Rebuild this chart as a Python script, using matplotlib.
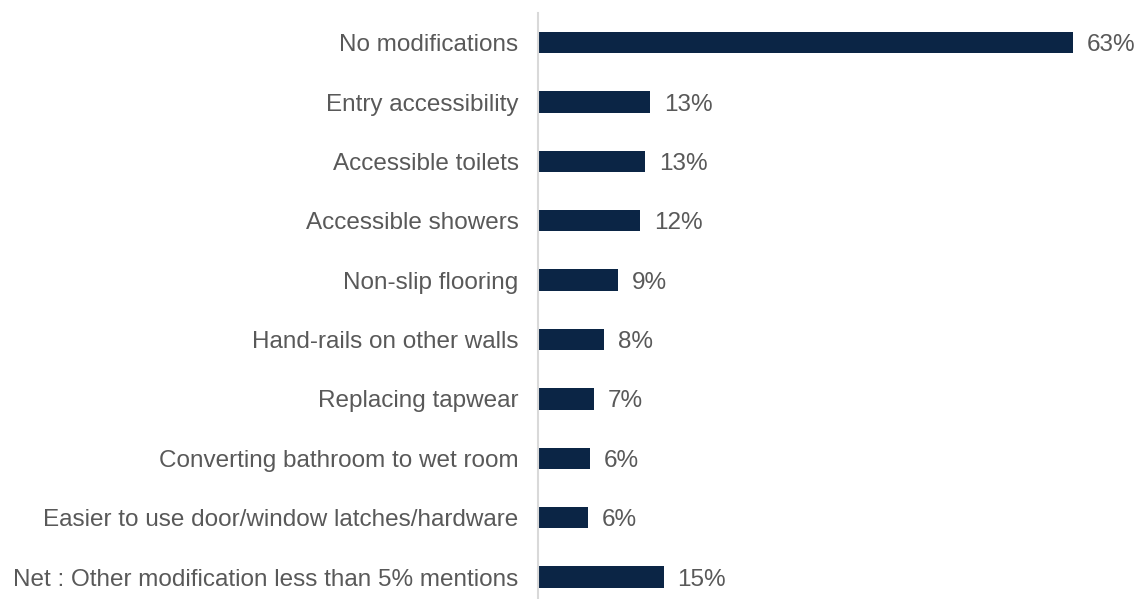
import matplotlib.pyplot as plt

plt.rcParams['font.family'] = ['Liberation Sans', 'DejaVu Sans']

categories = ['No modifications', 'Entry accessibility', 'Accessible toilets',
              'Accessible showers', 'Non-slip flooring', 'Hand-rails on other walls',
              'Replacing tapwear', 'Converting bathroom to wet room',
              'Easier to use door/window latches/hardware',
              'Net : Other modification less than 5% mentions']
values = [63.0, 13.2, 12.6, 12.0, 9.4, 7.8, 6.6, 6.1, 5.9, 14.8]

bar_color = '#0b2545'
text_color = '#595959'

fig = plt.figure(figsize=(11.4, 5.99), dpi=100)
ax = fig.add_axes([538 / 1140, 0, 1 - 538 / 1140, 1 - 13 / 599])

y = list(range(len(categories)))
ax.barh(y, values, height=0.36, color=bar_color)

for yi, v in zip(y, values):
    ax.annotate(f'{v:.0f}%', (v, yi), xytext=(10, 0), textcoords='offset points',
                va='center_baseline', ha='left', fontsize=17.5, color=text_color)

ax.set_yticks(y)
ax.set_yticklabels(categories, fontsize=17.5, color=text_color)
ax.tick_params(axis='y', length=0, pad=14)
ax.set_xticks([])
ax.set_xlim(0, (1140 - 538) / 8.49)
ax.set_ylim(9.37, -0.5)

for s in ['top', 'right', 'bottom']:
    ax.spines[s].set_visible(False)
ax.spines['left'].set_color('#d9d9d9')
ax.spines['left'].set_linewidth(1.5)

fig.savefig('out.png', dpi=100)
